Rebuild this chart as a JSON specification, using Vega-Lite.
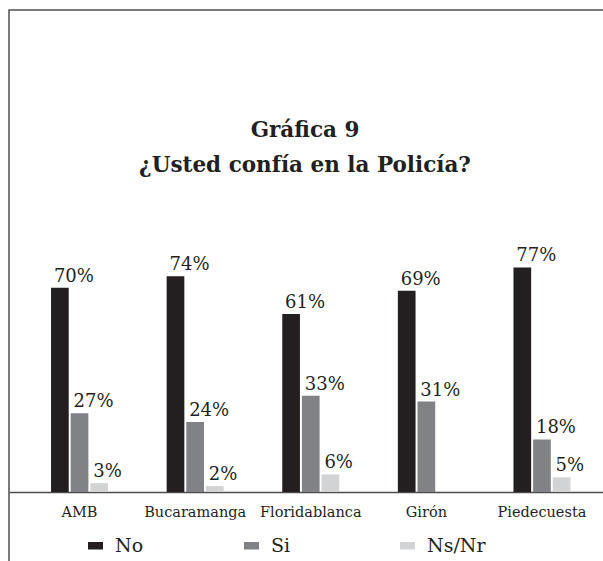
{
  "$schema": "https://vega.github.io/schema/vega-lite/v6.json",
  "width": 620,
  "height": 600,
  "autosize": {"type": "none"},
  "padding": {"left": 9, "top": 10, "right": 0, "bottom": 0},
  "background": "white",
  "config": {"view": {"stroke": "#4d4d4d", "strokeWidth": 1.5}, "font": "DejaVu Serif"},
  "title": {
    "text": ["Gráfica 9", "¿Usted confía en la Policía?"],
    "font": "DejaVu Serif",
    "fontWeight": "bold",
    "fontSize": 21.5,
    "lineHeight": 35,
    "color": "#231f20",
    "anchor": "middle",
    "offset": -166,
    "dx": -14
  },
  "data": {
    "values": [
      {"municipio": "AMB", "respuesta": "No", "valor": 70, "label": "70%"},
      {"municipio": "AMB", "respuesta": "Si", "valor": 27, "label": "27%"},
      {"municipio": "AMB", "respuesta": "Ns/Nr", "valor": 3, "label": "3%"},
      {"municipio": "Bucaramanga", "respuesta": "No", "valor": 74, "label": "74%"},
      {"municipio": "Bucaramanga", "respuesta": "Si", "valor": 24, "label": "24%"},
      {"municipio": "Bucaramanga", "respuesta": "Ns/Nr", "valor": 2, "label": "2%"},
      {"municipio": "Floridablanca", "respuesta": "No", "valor": 61, "label": "61%"},
      {"municipio": "Floridablanca", "respuesta": "Si", "valor": 33, "label": "33%"},
      {"municipio": "Floridablanca", "respuesta": "Ns/Nr", "valor": 6, "label": "6%"},
      {"municipio": "Girón", "respuesta": "No", "valor": 69, "label": "69%"},
      {"municipio": "Girón", "respuesta": "Si", "valor": 31, "label": "31%"},
      {"municipio": "Piedecuesta", "respuesta": "No", "valor": 77, "label": "77%"},
      {"municipio": "Piedecuesta", "respuesta": "Si", "valor": 18, "label": "18%"},
      {"municipio": "Piedecuesta", "respuesta": "Ns/Nr", "valor": 5, "label": "5%"}
    ]
  },
  "encoding": {
    "x": {
      "field": "municipio",
      "type": "nominal",
      "sort": ["AMB", "Bucaramanga", "Floridablanca", "Girón", "Piedecuesta"],
      "scale": {"paddingInner": 0.507, "paddingOuter": 0.435, "align": 0.418},
      "axis": {
        "title": null,
        "orient": "bottom",
        "offset": -118,
        "domainColor": "#4d4d4d",
        "domainWidth": 1.5,
        "ticks": false,
        "labelAngle": 0,
        "labelFont": "DejaVu Serif",
        "labelFontSize": 14.5,
        "labelColor": "#231f20",
        "labelPadding": 13
      }
    },
    "xOffset": {
      "field": "respuesta",
      "type": "nominal",
      "sort": ["No", "Si", "Ns/Nr"],
      "scale": {"domain": ["No", "Si", "Ns/Nr"], "paddingInner": 0.1, "paddingOuter": 0}
    },
    "y": {
      "field": "valor",
      "type": "quantitative",
      "stack": null,
      "scale": {"domain": [-40.5, 165.3], "nice": false, "zero": false},
      "axis": null
    }
  },
  "layer": [
    {
      "mark": {"type": "bar"},
      "encoding": {
        "color": {
          "field": "respuesta",
          "type": "nominal",
          "sort": ["No", "Si", "Ns/Nr"],
          "scale": {"domain": ["No", "Si", "Ns/Nr"], "range": ["#231f20", "#808285", "#d1d3d4"]},
          "legend": {
            "title": null,
            "orient": "none",
            "legendX": 77,
            "legendY": 526,
            "direction": "horizontal",
            "gridAlign": "all",
            "columnPadding": 68,
            "symbolType": "M-1,-0.5H1V0.5H-1Z",
            "symbolSize": 225,
            "symbolStrokeWidth": 0,
            "labelFontSize": 19,
            "labelFont": "DejaVu Serif",
            "labelColor": "#231f20",
            "labelOffset": 10,
            "padding": 0
          }
        }
      }
    },
    {
      "mark": {"type": "text", "align": "left", "baseline": "bottom", "dx": -6, "dy": -2, "fontSize": 18, "font": "DejaVu Serif", "color": "#231f20"},
      "encoding": {"text": {"field": "label", "type": "nominal"}}
    }
  ]
}
